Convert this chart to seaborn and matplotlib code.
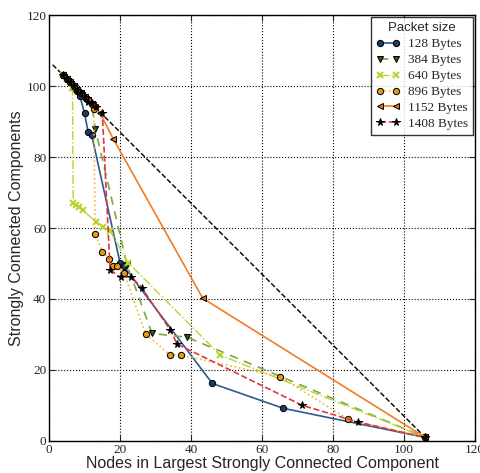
import matplotlib
matplotlib.use("Agg")
import matplotlib.pyplot as plt
import seaborn as sns
import pandas as pd

sns.set_style("ticks")
plt.rcParams['font.family'] = ['Liberation Serif', 'DejaVu Serif']

labels = ["128 Bytes", "384 Bytes", "640 Bytes", "896 Bytes", "1152 Bytes", "1408 Bytes"]

x128 = [4, 5, 6, 7, 8, 8.7, 10, 11, 12, 20, 21, 46, 66, 106]
y128 = [103, 102, 101, 99.5, 98.5, 97.2, 92.3, 87.1, 86.2, 50.2, 49.3, 16.2, 9.2, 1]

x384 = [4, 5, 6, 7, 8, 9, 10, 11, 12, 13, 22, 29, 39, 106]
y384 = [103, 102, 101, 100, 99, 98, 97, 96, 95, 88, 49.5, 30.3, 29.2, 1]

x640 = [4, 5, 6, 6.6, 6.8, 7.5, 8.5, 9.5, 13.2, 15.3, 17.2, 22.3, 48.2, 106]
y640 = [103, 102, 101, 99.5, 67.1, 66.6, 66, 65, 61.8, 60.4, 59.2, 50.2, 24.2, 1]

x896 = [4, 5, 6, 7, 8, 9, 10, 11, 12, 12.6, 13, 15, 17, 18.1, 19, 21.2, 27.2, 34.1, 37.1, 65.1, 84.1, 106]
y896 = [103, 102, 101, 100, 99, 98, 97, 96, 95, 93.5, 58.3, 53.3, 51.3, 49.3, 49.3, 47.2, 30.1, 24.2, 24.2, 18.1, 6.2, 1]

x1152 = [4, 5, 6, 7, 8, 9, 10, 11, 12, 13, 14.4, 18.1, 43.3, 106]
y1152 = [103, 102, 101, 100, 99, 98, 97, 96, 95, 94, 92.3, 85.1, 40.2, 1]

x1408 = [4, 5, 6, 7, 8, 9, 10, 11.1, 12.2, 13.2, 15, 17.2, 20.2, 23.1, 26.1, 34.1, 36.1, 71.2, 87.1, 106]
y1408 = [103, 102, 101, 100, 99, 98, 97, 95.4, 95.1, 94.2, 92.3, 48.2, 46.1, 46.3, 43.2, 31.3, 27.3, 10.1, 5.3, 1]

ref_x = [1, 106]
ref_y = [106, 1]

xticks = [0, 20, 40, 60, 80, 100, 120]
yticks = [0, 20, 40, 60, 80, 100, 120]

series = [
    (x128, y128, dict(color="#2b5b8f", linestyle="-", marker="o", markerfacecolor="#1d3f66",
                      markeredgecolor="black", markersize=4.5, linewidth=1.2)),
    (x384, y384, dict(color="#7caa3e", linestyle=(0, (5, 4)), marker="v", markerfacecolor="#3b5a16",
                      markeredgecolor="black", markersize=4.5, linewidth=1.2)),
    (x640, y640, dict(color="#b8d433", linestyle="-.", marker="x", markerfacecolor="#b8d433",
                      markeredgecolor="#b8d433", markersize=4.5, linewidth=1.0, markeredgewidth=1.5)),
    (x896, y896, dict(color="#f5b53d", linestyle=":", marker="o", markerfacecolor="#e89c0c",
                      markeredgecolor="black", markersize=4.5, linewidth=1.2)),
    (x1152, y1152, dict(color="#f47b20", linestyle="-", marker="<", markerfacecolor="#f47b20",
                        markeredgecolor="black", markersize=4.5, linewidth=1.2)),
    (x1408, y1408, dict(color="#e0373d", linestyle="--", marker="*", markerfacecolor="black",
                        markeredgecolor="black", markersize=5.5, linewidth=1.2)),
]

fig = plt.figure(figsize=(4.81, 4.73), dpi=100)
ax = fig.add_axes([0.102, 0.0677, 0.8855, 0.9005])

sns.lineplot(x=ref_x, y=ref_y, ax=ax, color="black", linestyle="--", linewidth=1.0,
             estimator=None, sort=False, legend=False)

for (xs, ys, kw), lab in zip(series, labels):
    df = pd.DataFrame({"x": xs, "y": ys})
    sns.lineplot(data=df, x="x", y="y", ax=ax, estimator=None, sort=False, label=lab, **kw)

ax.set_xlim(0, 120)
ax.set_ylim(0, 120)
ax.set_xticks(xticks)
ax.set_yticks(yticks)
ax.grid(True, linestyle=":", color="black", linewidth=0.8)
ax.tick_params(direction="in", top=True, right=True, labelsize=9.5, length=4, pad=2)
for s in ax.spines.values():
    s.set_color("black")
    s.set_linewidth(1.0)

ax.set_xlabel("Nodes in Largest Strongly Connected Component", family="Liberation Sans",
              fontsize=11.5, labelpad=0)
ax.set_ylabel("Strongly Connected Components", family="Liberation Sans", fontsize=11.5, labelpad=1.5)

leg = ax.legend(loc="upper right", title="Packet size", fontsize=9.5, numpoints=2,
                frameon=True, fancybox=False, edgecolor="black", handlelength=1.8,
                borderpad=0.4, labelspacing=0.28, handletextpad=0.6,
                bbox_to_anchor=(0.996, 0.995), borderaxespad=0.0)
leg.get_title().set_family("Liberation Sans")
leg.get_title().set_fontsize(9.5)
leg.get_frame().set_linewidth(1.0)

fig.savefig("out.png", dpi=100)
